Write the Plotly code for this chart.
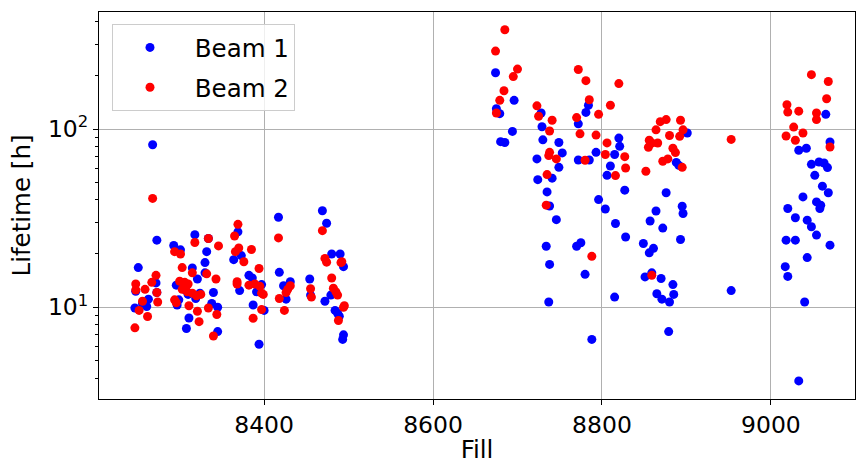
import plotly.graph_objects as go

# ---- data ----
beam1_fill = [
    8268, 8273, 8251, 8272, 8248, 8273, 8263, 8247, 8261, 8256,
    8293, 8301, 8318, 8334, 8332, 8330, 8315, 8330, 8321, 8296,
    8340, 8307, 8310, 8324, 8297, 8299, 8319, 8345, 8311, 8308,
    8345, 8338, 8369, 8364, 8373, 8382, 8386, 8371, 8391, 8397,
    8387, 8400, 8394, 8417, 8418, 8423, 8431, 8426, 8454, 8455,
    8469, 8474, 8480, 8490, 8494, 8479, 8472, 8484, 8487, 8489,
    8494, 8493,
    8674, 8675, 8679, 8696, 8694, 8680, 8685, 8728, 8729, 8730,
    8749, 8753, 8723, 8749, 8741, 8724, 8735, 8738, 8746, 8734,
    8738, 8737, 8784, 8781, 8772, 8772, 8785, 8793, 8820, 8821,
    8815, 8810, 8806, 8827, 8796, 8804, 8816, 8828, 8770, 8775,
    8780, 8815, 8788, 8901, 8888, 8891, 8876, 8895, 8896, 8864,
    8857, 8872, 8893, 8849, 8861, 8856, 8859, 8851, 8870, 8884,
    8865, 8885, 8871, 8880, 8879, 8953,
    9065, 9070, 9033, 9042, 9048, 9057, 9063, 9067, 9052, 9061,
    9068, 9038, 9054, 9059, 9058, 9020, 9029, 9043, 9048, 9054,
    9018, 9029, 9070, 9043, 9017, 9020, 9040, 9033,
]
beam1_life = [
    81.7, 23.8, 16.7, 13.7, 12.3, 12.1, 11.1, 9.9, 10.1, 10.5,
    22.2, 21.0, 25.5, 24.3, 20.5, 17.8, 16.6, 15.6, 14.4, 13.3,
    12.1, 12.5, 11.8, 12.0, 10.3, 11.0, 11.2, 10.0, 8.7, 7.6,
    7.3, 10.5, 26.5, 18.5, 19.5, 15.1, 14.6, 12.4, 12.2, 13.4,
    10.3, 9.6, 6.2, 32.0, 15.7, 13.2, 13.9, 11.1, 14.4, 11.7,
    34.8, 29.6, 19.9, 19.9, 16.9, 11.7, 10.8, 9.6, 9.25, 8.9,
    7.0, 6.6,
    207, 130, 122, 145, 97, 85, 84, 123, 103, 87,
    84, 73.5, 68, 61, 53, 52, 44.4, 37, 31, 22,
    17.4, 10.7, 136, 124, 107, 67, 67, 74, 89, 80,
    72, 62, 55, 45.4, 40.2, 35.6, 29.5, 24.8, 22, 23,
    15.3, 11.4, 6.6, 95, 65, 62.6, 43.9, 36.9, 33.6, 34.7,
    30.5, 27.8, 24, 22.8, 21.4, 20.2, 15.6, 14.8, 14.5, 13.4,
    11.9, 11.8, 11.1, 10.7, 7.3, 12.4,
    121, 84.6, 76, 78, 63.4, 65.3, 64.5, 60.8, 55, 47.8,
    43.9, 41.6, 39, 37.4, 35.8, 35.8, 31.8, 30.8, 28.3, 25.4,
    23.8, 23.8, 22.3, 19, 16.9, 14.9, 10.7, 3.86,
]

beam2_fill = [
    8268, 8272, 8267, 8248, 8248, 8259, 8273, 8256, 8274, 8252,
    8262, 8247, 8318, 8294, 8301, 8334, 8346, 8303, 8315, 8332,
    8343, 8300, 8306, 8310, 8303, 8309, 8315, 8320, 8325, 8294,
    8296, 8311, 8321, 8323, 8334, 8344, 8340, 8369, 8365, 8366,
    8370, 8376, 8385, 8394, 8368, 8368, 8382, 8389, 8395, 8397,
    8399, 8397, 8387, 8417, 8428, 8431, 8426, 8418, 8424, 8455,
    8456, 8469, 8472, 8474, 8491, 8492, 8480, 8482, 8485, 8487,
    8495, 8494, 8488,
    8685, 8674, 8695, 8700, 8684, 8679, 8675, 8723, 8725, 8741,
    8738, 8738, 8737, 8746, 8735, 8734, 8772, 8781, 8785, 8770,
    8796, 8774, 8793, 8780, 8810, 8820, 8806, 8804, 8827, 8828,
    8816, 8788, 8869, 8876, 8893, 8864, 8896, 8892, 8880, 8856,
    8859, 8866, 8855, 8884, 8887, 8872, 8878, 8895, 8852, 8859,
    8953,
    9048, 9068, 9066, 9019, 9020, 9033, 9054, 9054, 9027, 9038,
    9018, 9029, 9070,
]
beam2_life = [
    40.8, 15.1, 13.8, 13.5, 12.5, 12.6, 12.1, 10.8, 10.7, 9.6,
    8.87, 7.66, 23.1, 20.5, 19.9, 24.3, 22.1, 16.7, 15.6, 15.4,
    14.4, 14.0, 13.8, 13.5, 12.6, 12.2, 12.0, 11.6, 11.8, 11.0,
    10.6, 10.2, 9.5, 8.3, 9.9, 9.1, 6.9, 29.2, 25.1, 20.5,
    21.5, 18.0, 21.1, 16.5, 13.9, 13.5, 13.3, 13.5, 13.1, 12.0,
    11.8, 9.7, 8.67, 24.5, 12.6, 13.2, 12.1, 11.2, 9.6, 12.7,
    11.4, 26.9, 18.8, 17.9, 17.8, 18.0, 14.6, 12.8, 12.2, 11.7,
    10.2, 10.0, 8.42,
    361, 274, 197, 217, 164, 145, 123, 135, 118, 112,
    97.5, 74, 71, 68, 55.5, 37.4, 216, 187, 146, 116,
    121, 94, 92.5, 66.8, 136, 180, 83.6, 72, 70, 60.5,
    54.8, 19.3, 110, 113, 112, 99, 99, 91, 92, 86.5,
    83.5, 83.5, 79, 78, 73.8, 66, 68, 61, 58, 15.1,
    87.5,
    202, 185, 148, 137, 124.5, 126, 123, 113, 102.6, 95,
    91.4, 86.5, 79.3,
]

series_names = ["\u00a0Beam 1", "\u00a0Beam 2"]
x_ticks = [8400, 8600, 8800, 9000]
y_ticks = [10, 100]
y_ticktext = ["10<sup>1</sup>", "10<sup>2</sup>"]
y_minor = [4, 5, 6, 7, 8, 9, 20, 30, 40, 50, 60, 70, 80, 90, 200, 300, 400]

FONT = "DejaVu Sans"
TICK_SIZE = 23.5
LABEL_SIZE = 24.5

fig = go.Figure()
fig.add_trace(go.Scatter(
    x=beam1_fill, y=beam1_life, mode="markers", name=series_names[0],
    legendgroup="b1",
    marker=dict(color="#0000ff", size=9, line=dict(width=0)),
))
fig.add_trace(go.Scatter(
    x=beam2_fill, y=beam2_life, mode="markers", name=series_names[1],
    legendgroup="b2",
    marker=dict(color="#ff0000", size=9, line=dict(width=0)),
))

W, H = 856, 464
L, R, T, B = 99, 1, 12, 65
pw = W - L - R
ph = H - T - B

fig.update_layout(
    width=W, height=H,
    margin=dict(l=L, r=R, t=T, b=B, pad=0),
    paper_bgcolor="white", plot_bgcolor="white",
    font=dict(family=FONT, size=TICK_SIZE, color="black"),
    showlegend=True,
    legend=dict(
        x=(112 - L) / pw, y=1 - (24 - T) / ph,
        xanchor="left", yanchor="top",
        bgcolor="rgba(255,255,255,0.8)",
        bordercolor="#cccccc", borderwidth=1,
        font=dict(family=FONT, size=LABEL_SIZE, color="black"),
        tracegroupgap=5,
        itemwidth=64,
    ),
)

fig.update_xaxes(
    range=[8204.5, 9099.6],
    tickmode="array", tickvals=x_ticks,
    ticks="outside", ticklen=5, tickwidth=1, tickcolor="black",
    showline=True, linecolor="black", linewidth=1, mirror=True,
    showgrid=True, gridcolor="#b0b0b0", gridwidth=1,
    zeroline=False,
    tickfont=dict(family=FONT, size=TICK_SIZE, color="black"),
    title=dict(text="Fill", font=dict(family=FONT, size=LABEL_SIZE, color="black"), standoff=8),
)
fig.update_yaxes(
    type="log",
    range=[0.485, 2.657],
    tickmode="array", tickvals=y_ticks, ticktext=y_ticktext,
    ticks="outside", ticklen=5, tickwidth=1, tickcolor="black",
    minor=dict(tickmode="array", tickvals=y_minor, ticks="outside",
               ticklen=3, tickwidth=0.8, tickcolor="black", showgrid=False),
    showline=True, linecolor="black", linewidth=1, mirror=True,
    showgrid=True, gridcolor="#b0b0b0", gridwidth=1,
    zeroline=False,
    tickfont=dict(family=FONT, size=TICK_SIZE, color="black"),
    title=dict(text="Lifetime [h]", font=dict(family=FONT, size=LABEL_SIZE, color="black"), standoff=10),
)

fig.write_html("out.html")
